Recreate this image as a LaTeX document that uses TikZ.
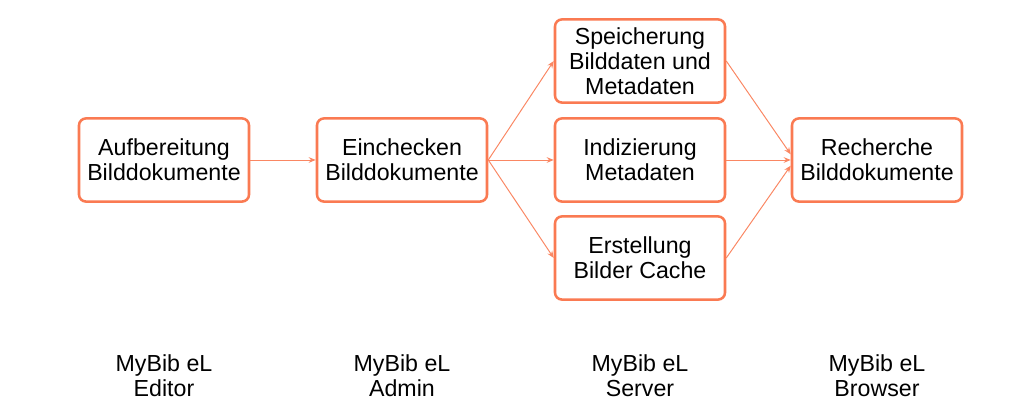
\documentclass[tikz,border=0pt]{standalone}
\usepackage{fontspec}
\setmainfont{Liberation Sans}
\usetikzlibrary{arrows.meta,positioning}
\definecolor{mybib}{RGB}{250,122,82}

\begin{document}
\begin{tikzpicture}[
    box/.style={draw=mybib, line width=1.8pt, rounded corners=5pt, minimum width=4.25cm, minimum height=2.08cm, align=center, font=\fontsize{16.5}{17.6}\selectfont},
    arr/.style={-{Stealth[length=5pt,width=4pt]}, draw=mybib!90, line width=0.7pt},
    lbl/.style={align=center, font=\fontsize{16.5}{17.6}\selectfont}
]
\useasboundingbox (0,0) rectangle (25.6,10.425);
\node[box] (prep) at (4.1,6.425) {Aufbereitung\\Bilddokumente};
\node[box] (checkin) at (10.05,6.425) {Einchecken\\Bilddokumente};
\node[box] (store) at (16,8.9) {Speicherung\\Bilddaten und\\Metadaten};
\node[box] (index) at (16,6.425) {Indizierung\\Metadaten};
\node[box] (cache) at (16,3.975) {Erstellung\\Bilder Cache};
\node[box] (search) at (21.925,6.425) {Recherche\\Bilddokumente};

\node[lbl] (editor) at (4.1,1.025) {MyBib eL\\Editor};
\node[lbl] (admin) at (10.05,1.025) {MyBib eL\\Admin};
\node[lbl] (server) at (16,1.025) {MyBib eL\\Server};
\node[lbl] (browser) at (21.925,1.025) {MyBib eL\\Browser};

\draw[arr] (prep) -- (checkin);
\draw[arr] (checkin.east) -- (store.west);
\draw[arr] (checkin.east) -- (index.west);
\draw[arr] (checkin.east) -- (cache.west);
\draw[arr] (store.east) -- ([yshift=4pt]search.west);
\draw[arr] (index.east) -- (search.west);
\draw[arr] (cache.east) -- ([yshift=-4pt]search.west);
\end{tikzpicture}
\end{document}
